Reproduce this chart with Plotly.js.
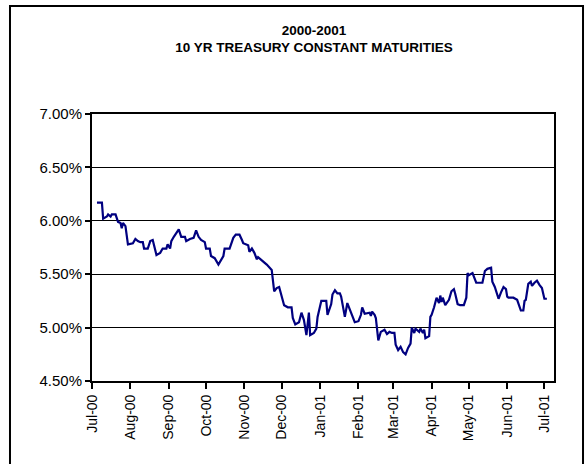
<!DOCTYPE html>
<html>
<head>
<meta charset="utf-8">
<script src="https://cdn.plot.ly/plotly-3.0.1.min.js"></script>
<style>html,body{margin:0;padding:0;background:#fff;}#chart{width:588px;height:464px;}</style>
</head>
<body>
<div id="chart"></div>
<script>
const dates = [
 '2000-07-05','2000-07-09','2000-07-10','2000-07-13','2000-07-14','2000-07-16','2000-07-17','2000-07-20','2000-07-22','2000-07-24',
 '2000-07-25','2000-07-26','2000-07-28','2000-07-30','2000-08-03','2000-08-05','2000-08-07','2000-08-09','2000-08-11','2000-08-12',
 '2000-08-15','2000-08-17','2000-08-19','2000-08-21','2000-08-22','2000-08-25','2000-08-27','2000-08-30','2000-08-31','2000-09-02',
 '2000-09-03','2000-09-05','2000-09-07','2000-09-09','2000-09-11','2000-09-14','2000-09-15','2000-09-18','2000-09-21','2000-09-23',
 '2000-09-25','2000-09-27','2000-09-30','2000-10-01','2000-10-04','2000-10-05','2000-10-08','2000-10-11','2000-10-15','2000-10-16',
 '2000-10-20','2000-10-23','2000-10-25','2000-10-28','2000-10-30','2000-10-31','2000-11-04','2000-11-05','2000-11-07','2000-11-09',
 '2000-11-11','2000-11-12','2000-11-15','2000-11-19','2000-11-23','2000-11-25','2000-11-27','2000-11-29','2000-12-03','2000-12-06',
 '2000-12-09','2000-12-10','2000-12-12','2000-12-15','2000-12-17','2000-12-19','2000-12-21','2000-12-23','2000-12-24','2000-12-27',
 '2000-12-29','2000-12-30','2001-01-01','2001-01-02','2001-01-06','2001-01-07','2001-01-10','2001-01-11','2001-01-13','2001-01-15',
 '2001-01-17','2001-01-18','2001-01-21','2001-01-23','2001-01-26','2001-01-29','2001-02-01','2001-02-03','2001-02-04','2001-02-06',
 '2001-02-10','2001-02-11','2001-02-12','2001-02-14','2001-02-15','2001-02-17','2001-02-19','2001-02-22','2001-02-24','2001-02-26',
 '2001-02-28','2001-03-02','2001-03-03','2001-03-05','2001-03-07','2001-03-09','2001-03-11','2001-03-13','2001-03-15','2001-03-16',
 '2001-03-18','2001-03-19','2001-03-22','2001-03-23','2001-03-25','2001-03-26','2001-03-27','2001-03-30','2001-03-31','2001-04-01',
 '2001-04-03','2001-04-05','2001-04-07','2001-04-08','2001-04-09','2001-04-10','2001-04-12','2001-04-15','2001-04-17','2001-04-19',
 '2001-04-20','2001-04-22','2001-04-24','2001-04-27','2001-04-29','2001-04-30','2001-05-01','2001-05-04','2001-05-07','2001-05-12',
 '2001-05-14','2001-05-16','2001-05-19','2001-05-20','2001-05-22','2001-05-25','2001-05-27','2001-05-29','2001-05-31','2001-06-01',
 '2001-06-02','2001-06-06','2001-06-09','2001-06-10','2001-06-12','2001-06-14','2001-06-15','2001-06-16','2001-06-18','2001-06-20',
 '2001-06-21','2001-06-23','2001-06-25','2001-06-27','2001-06-29','2001-07-01','2001-07-03'
];
const yields = [
 6.17,6.17,6.02,6.04,6.06,6.04,6.06,6.06,5.99,5.98,
 5.93,5.98,5.95,5.78,5.79,5.83,5.81,5.80,5.80,5.74,
 5.74,5.81,5.82,5.74,5.68,5.70,5.74,5.74,5.78,5.74,
 5.81,5.85,5.89,5.92,5.85,5.85,5.81,5.83,5.84,5.91,
 5.85,5.82,5.80,5.74,5.74,5.67,5.65,5.59,5.67,5.74,
 5.74,5.84,5.87,5.87,5.82,5.79,5.77,5.71,5.74,5.70,
 5.64,5.66,5.63,5.59,5.54,5.34,5.37,5.38,5.21,5.19,
 5.19,5.09,5.03,5.05,5.14,5.07,4.93,5.14,4.93,4.95,
 4.99,5.10,5.20,5.25,5.25,5.12,5.22,5.31,5.35,5.32,
 5.32,5.29,5.10,5.23,5.14,5.05,5.06,5.12,5.19,5.13,
 5.14,5.11,5.15,5.12,5.09,4.88,4.96,4.98,4.94,4.96,
 4.95,4.95,4.84,4.79,4.82,4.77,4.75,4.81,4.85,5.00,
 4.95,4.99,4.96,4.99,4.95,4.98,4.90,4.92,5.10,5.12,
 5.19,5.28,5.23,5.30,5.24,5.28,5.21,5.26,5.34,5.36,
 5.32,5.22,5.21,5.21,5.28,5.51,5.49,5.51,5.42,5.42,
 5.53,5.55,5.56,5.43,5.38,5.27,5.33,5.38,5.36,5.29,
 5.28,5.28,5.26,5.23,5.16,5.16,5.25,5.26,5.41,5.43,
 5.39,5.42,5.44,5.40,5.37,5.27,5.27
];
const monthTicks = ['2000-07-01','2000-08-01','2000-09-01','2000-10-01','2000-11-01','2000-12-01','2001-01-01',
 '2001-02-01','2001-03-01','2001-04-01','2001-05-01','2001-06-01','2001-07-01'];
const monthLabels = ['Jul-00','Aug-00','Sep-00','Oct-00','Nov-00','Dec-00','Jan-01','Feb-01','Mar-01','Apr-01','May-01','Jun-01','Jul-01'];
const yTickVals = [4.5,5.0,5.5,6.0,6.5,7.0];
const yTickText = ['4.50%','5.00%','5.50%','6.00%','6.50%','7.00%'];

const FONT = 'Arial, "Liberation Sans", sans-serif';

Plotly.newPlot('chart', [{
  x: dates, y: yields, type: 'scatter', mode: 'lines',
  line: {color: '#000080', width: 2.2},
  hoverinfo: 'skip'
}], {
  width: 588, height: 464,
  margin: {l: 92, r: 34, t: 114, b: 83},
  paper_bgcolor: '#ffffff', plot_bgcolor: '#ffffff',
  showlegend: false,
  font: {family: FONT, color: '#000'},
  title: {
    text: '<b>2000-2001</b><br><b>10 YR TREASURY CONSTANT MATURITIES</b>',
    font: {family: FONT, size: 13.5, color: '#000'},
    x: 0.534, xref: 'container', xanchor: 'center',
    y: 0.925, yref: 'container', yanchor: 'middle'
  },
  xaxis: {
    type: 'date',
    range: ['2000-07-01', '2001-07-08 18:00'],
    tickvals: monthTicks, ticktext: monthLabels,
    tickangle: -90,
    ticks: 'outside', ticklen: 6, tickwidth: 2, tickcolor: '#000',
    tickfont: {family: FONT, size: 14, color: '#000'},
    showgrid: false, zeroline: false,
    showline: true, linecolor: '#000', linewidth: 2, mirror: true
  },
  yaxis: {
    range: [4.5, 7.0],
    tickvals: yTickVals, ticktext: yTickText,
    ticks: 'outside', ticklen: 5, tickwidth: 2, tickcolor: '#000',
    tickfont: {family: FONT, size: 15, color: '#000'},
    showgrid: true, gridcolor: '#000', gridwidth: 1,
    zeroline: false,
    showline: true, linecolor: '#000', linewidth: 2, mirror: true
  },
  shapes: [{
    type: 'rect', xref: 'paper', yref: 'paper',
    x0: -0.1775, x1: 1.0628, y0: -0.34, y1: 1.4045,
    line: {color: '#000', width: 2}, fillcolor: 'rgba(0,0,0,0)', layer: 'below'
  }]
}, {staticPlot: true});
</script>
</body>
</html>
